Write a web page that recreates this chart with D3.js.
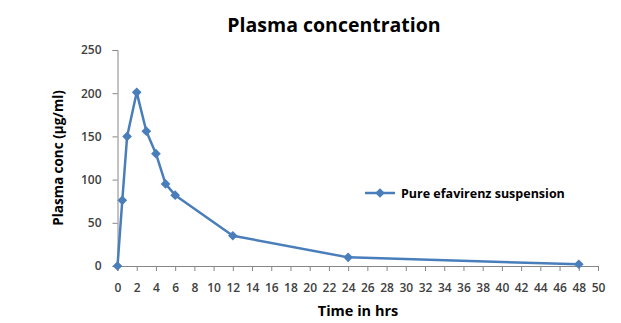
<!DOCTYPE html>
<html><head><meta charset="utf-8">
<script src="https://cdn.jsdelivr.net/npm/d3@7"></script>
<style>body{margin:0;background:#fff}svg{display:block}</style>
</head><body><svg id="c" width="621" height="323"></svg>
<script>
const times = [0, 0.5, 1, 2, 3, 4, 5, 6, 12, 24, 48];
const conc = [0, 76, 150, 201, 156, 130, 95, 82, 35, 10, 2];
const xTicks = d3.range(0, 51, 2);
const yTicks = [0, 50, 100, 150, 200, 250];
const seriesName = "Pure efavirenz suspension";
const title = "Plasma concentration";
const xLabel = "Time in hrs";
const yLabel = "Plasma conc (µg/ml)";

const svg = d3.select("#c");
const font = "'Open Sans', 'DejaVu Sans', sans-serif";
const x = d3.scaleLinear().domain([0, 50]).range([117.5, 598]);
const y = d3.scaleLinear().domain([0, 250]).range([266, 50]);
const axisCol = "#868686", textCol = "#404040", lineCol = "#4a7ebb";

svg.append("text").attr("x", 334).attr("y", 32).attr("text-anchor", "middle")
  .attr("font-family", font).attr("font-weight", "bold").attr("font-size", 19.5)
  .attr("fill", "#000").text(title);

const gx = svg.append("g").attr("transform", "translate(0,266)")
  .call(d3.axisBottom(x).tickValues(xTicks).tickSize(5).tickPadding(14));
const gy = svg.append("g").attr("transform", "translate(117.5,0)")
  .call(d3.axisLeft(y).tickValues(yTicks).tickSize(5).tickPadding(11));
[gx, gy].forEach(g => {
  g.select(".domain").attr("stroke", axisCol);
  g.selectAll(".tick line").attr("stroke", axisCol);
  g.selectAll(".tick text").attr("fill", textCol).attr("font-family", font)
    .attr("font-size", 12).attr("font-weight", 600);
});
gx.selectAll(".tick text").attr("dy", "0.6em");

svg.append("text").attr("x", 358).attr("y", 316).attr("text-anchor", "middle")
  .attr("font-family", font).attr("font-weight", "bold").attr("font-size", 14.5)
  .attr("fill", "#000").text(xLabel);
svg.append("text").attr("transform", "translate(63,158) rotate(-90)")
  .attr("text-anchor", "middle").attr("font-family", font).attr("font-weight", "bold")
  .attr("font-size", 13.5).attr("fill", "#000").text(yLabel);

const data = times.map((t, i) => [t, conc[i]]);
svg.append("path").datum(data).attr("fill", "none").attr("stroke", lineCol)
  .attr("stroke-width", 2.5).attr("stroke-linejoin", "round")
  .attr("d", d3.line().x(d => x(d[0])).y(d => y(d[1])));
const diamond = d3.symbol().type(d3.symbolDiamond2).size(60);
svg.append("g").selectAll("path").data(data).join("path")
  .attr("transform", d => `translate(${x(d[0])},${y(d[1])})`)
  .attr("d", diamond).attr("fill", lineCol);

const lg = svg.append("g").attr("transform", "translate(365,193)");
lg.append("line").attr("x1", 0).attr("x2", 30).attr("stroke", lineCol).attr("stroke-width", 2.5);
lg.append("path").attr("transform", "translate(15,0)").attr("d", diamond).attr("fill", lineCol);
lg.append("text").attr("x", 36).attr("y", 4.5).attr("font-family", font).attr("font-weight", "bold")
  .attr("font-size", 12.5).attr("fill", "#000").text(seriesName);
</script></body></html>
